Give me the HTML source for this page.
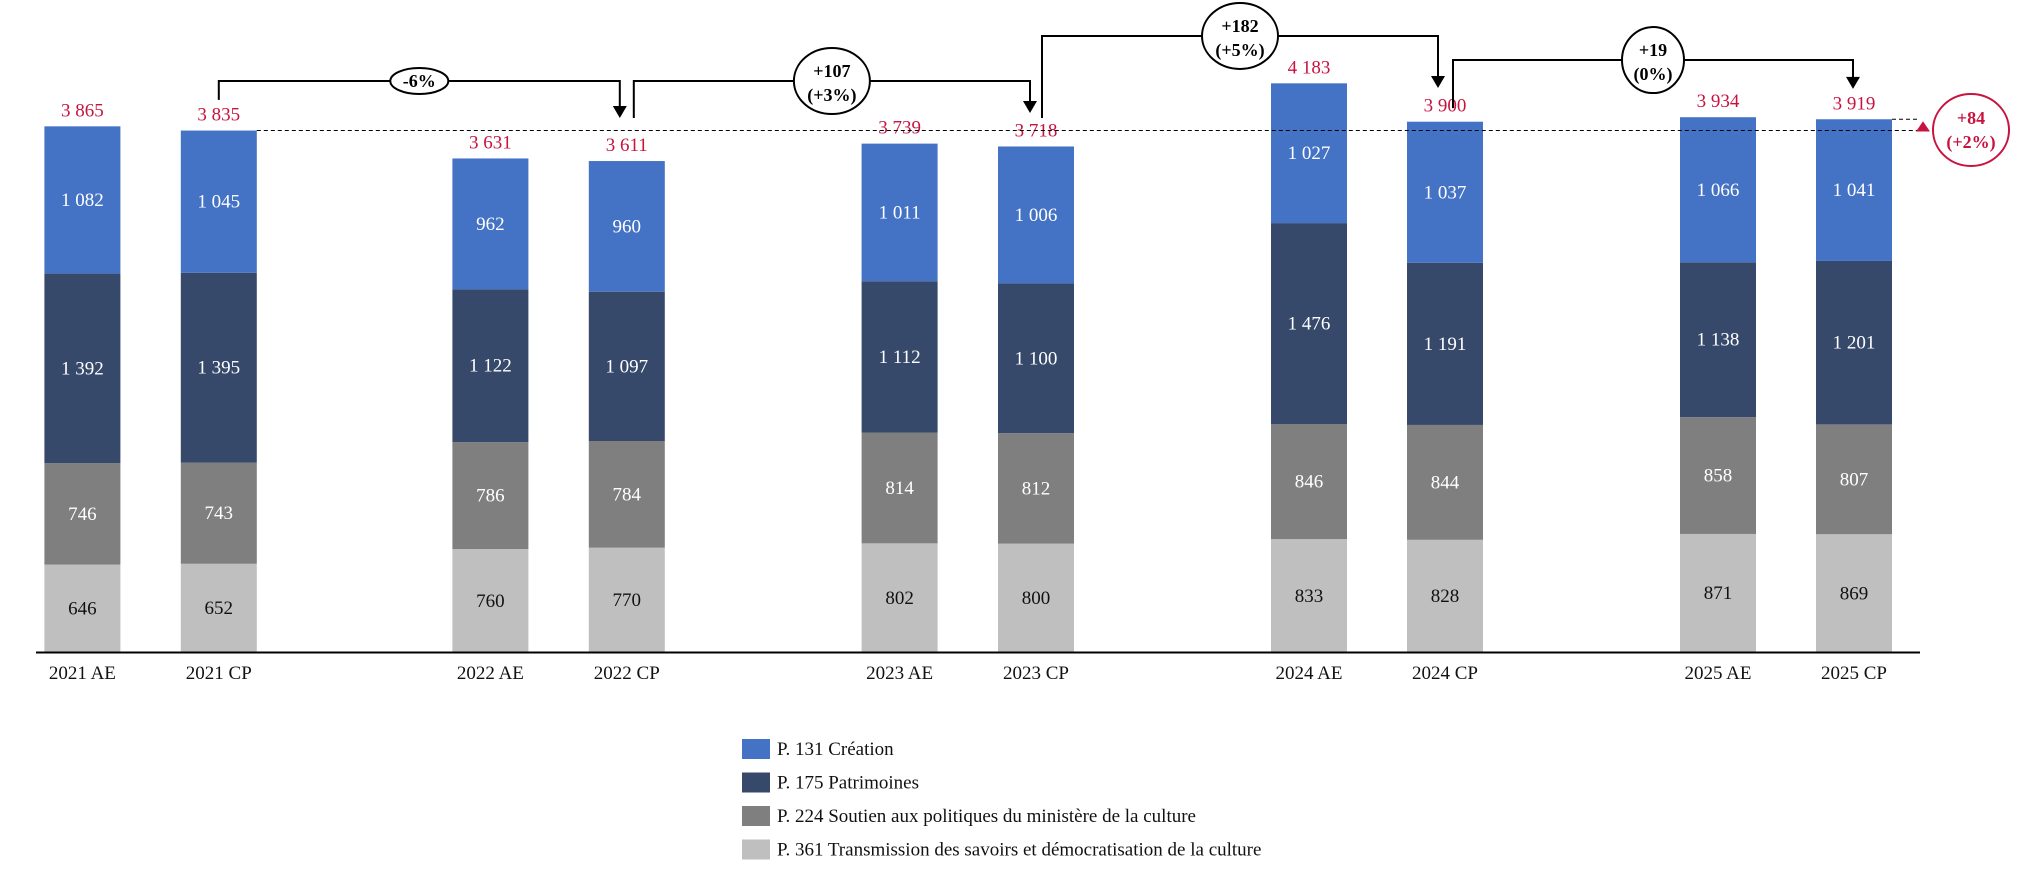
<!DOCTYPE html>
<html><head><meta charset="utf-8">
<style>
html,body{margin:0;padding:0;background:#fff;}
svg{display:block;font-family:"Liberation Serif",serif;}
</style></head>
<body>
<svg id="chart" width="2018" height="877" viewBox="0 0 2018 877"></svg>
<script>
const categories=["2021 AE","2021 CP","2022 AE","2022 CP","2023 AE","2023 CP","2024 AE","2024 CP","2025 AE","2025 CP"];
const p361=[646,652,760,770,802,800,833,828,871,869];
const p224=[746,743,786,784,814,812,846,844,858,807];
const p175=[1392,1395,1122,1097,1112,1100,1476,1191,1138,1201];
const p131=[1082,1045,962,960,1011,1006,1027,1037,1066,1041];
const totals=["3 865","3 835","3 631","3 611","3 739","3 718","4 183","3 900","3 934","3 919"];
const seriesNames=["P. 131 Création","P. 175 Patrimoines","P. 224 Soutien aux politiques du ministère de la culture","P. 361 Transmission des savoirs et démocratisation de la culture"];
const bracketFrom=[1,3,5,7];
const bracketTo=[3,5,7,9];
const bracketLabels=[["-6%"],["+107","(+3%)"],["+182","(+5%)"],["+19","(0%)"]];
const bracketStartValues=[4060,3927,3927,4000];
const bracketTopValues=[4199,4199,4530,4353];
const bracketArrowValues=[3927,3964,4148,4141];
const diffLabel=["+84","(+2%)"];

const NS="http://www.w3.org/2000/svg";
const svg=document.getElementById("chart");
const baseY=652.5, k=0.1361;
const centers=[82.4,218.8,490.4,626.8,899.6,1036,1309,1445,1718,1854];
const startOffsets=[0,7,6,8];
const arrowOffsets=[-7,-6,-7,-1];
const bw=76;
function X(i){return centers[i];}
function Y(v){return baseY-v*k;}
function el(tag,attrs,parent){const e=document.createElementNS(NS,tag);for(const a in attrs)e.setAttribute(a,attrs[a]);(parent||svg).appendChild(e);return e;}
function fmt(n){const s=String(n);return s.length>3?s.slice(0,s.length-3)+" "+s.slice(-3):s;}

const colors=["#4472C4","#36496B","#7F7F7F","#BFBFBF"];
const textColors=["#fff","#fff","#fff","#111"];
const stackOrder=[p361,p224,p175,p131];
const stackColor=[colors[3],colors[2],colors[1],colors[0]];
const stackText=[textColors[3],textColors[2],textColors[1],textColors[0]];

categories.forEach((c,i)=>{
  const g=el("g",{});
  
  
  let cum=0;
  stackOrder.forEach((arr,s)=>{
    const v=arr[i];
    const r=el("rect",{x:X(i)-bw/2,y:Y(cum+v),width:bw,height:v*k,fill:stackColor[s]},g);
    
    
    const t=el("text",{x:X(i),y:Y(cum+v/2)+6,"text-anchor":"middle","font-size":"19",fill:stackText[s]},g);
    
    
    t.textContent=fmt(v);
    cum+=v;
  });
  const tt=el("text",{x:X(i),y:Y(cum)-10,"text-anchor":"middle","font-size":"19",fill:"#C8133F"},g);
  
  
  tt.textContent=totals[i];
  const xl=el("text",{x:X(i),y:679,"text-anchor":"middle","font-size":"19",fill:"#111"});
  
  
  xl.textContent=c;
});
const ax=el("line",{x1:36,y1:baseY,x2:1920,y2:baseY,stroke:"#000","stroke-width":2});



function tot(i){return p361[i]+p224[i]+p175[i]+p131[i];}
const ref=el("line",{x1:X(1)+bw/2,y1:Y(tot(1)),x2:1920,y2:Y(tot(1)),stroke:"#000","stroke-width":1,"stroke-dasharray":"4,3"});


const ref2=el("line",{x1:X(9)+bw/2,y1:Y(tot(9)),x2:1920,y2:Y(tot(9)),stroke:"#000","stroke-width":1,"stroke-dasharray":"4,3"});


const tri=el("polygon",{points:`1923,${Y(tot(9))+2} 1916,${Y(tot(1))+1} 1930,${Y(tot(1))+1}`,fill:"#C8133F"});


const dc=el("ellipse",{cx:1971,cy:130,rx:38,ry:36,fill:"#fff",stroke:"#C8133F","stroke-width":2});


diffLabel.forEach((s,j)=>{
  const t=el("text",{x:1971,y:124+j*24,"text-anchor":"middle","font-size":"18","font-weight":"bold",fill:"#C8133F"});
  
  
  t.textContent=s;
});

bracketFrom.forEach((f,b)=>{
  const t=bracketTo[b];
  const x1=X(f)+startOffsets[b], x2=X(t)+arrowOffsets[b];
  const y1=Y(bracketStartValues[b]);
  const yt=Y(bracketTopValues[b]);
  const tip=Y(bracketArrowValues[b]);
  const p=el("path",{d:`M${x1},${y1} V${yt} H${x2} V${tip-10}`,fill:"none",stroke:"#000","stroke-width":2});
  
  
  const ah=el("polygon",{points:`${x2-7},${tip-12} ${x2+7},${tip-12} ${x2},${tip}`,fill:"#000"});
  
  
  const cx=(x1+x2)/2;
  const lines=bracketLabels[b];
  const e=el("ellipse",{cx:cx,cy:yt,rx:lines.length>1?(lines[0].length>3?38:31):29,ry:lines.length>1?33:13,fill:"#fff",stroke:"#000","stroke-width":2});
  
  
  lines.forEach((s,j)=>{
    const tx=el("text",{x:cx,y:yt+(lines.length>1?(j===0?-4:20):6),"text-anchor":"middle","font-size":"18","font-weight":"bold",fill:"#000"});
    
    
    tx.textContent=s;
  });
});

seriesNames.forEach((n,i)=>{
  const y=749+i*33.5;
  const g=el("g",{});
  
  
  el("rect",{x:742,y:y-10,width:28,height:20,fill:colors[i]},g);
  const t=el("text",{x:777,y:y+6,"font-size":"19",fill:"#111"},g);
  t.textContent=n;
});
</script>
</body></html>
